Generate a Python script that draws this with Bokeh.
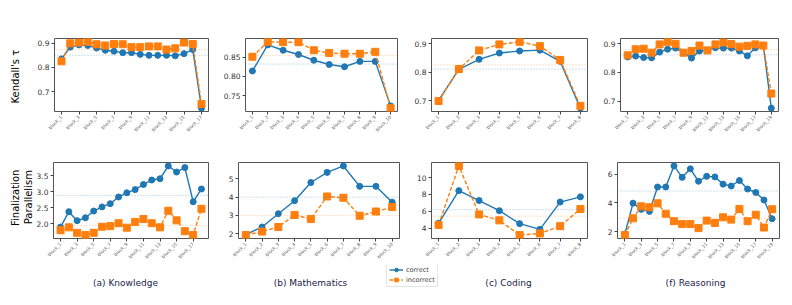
import numpy as np
from bokeh.plotting import figure
from bokeh.models import (Range1d, FixedTicker, Span, Legend, LegendItem,
                          ColumnDataSource, NumeralTickFormatter)
from bokeh.layouts import column, row
from bokeh.core.properties import value
from bokeh.embed import file_html
from bokeh.resources import INLINE

# ---------------- data ----------------
know_tau_correct = [0.835, 0.884, 0.893, 0.891, 0.880, 0.871, 0.867, 0.861, 0.861, 0.854,
                    0.850, 0.850, 0.850, 0.848, 0.857, 0.874, 0.631]
know_tau_incorrect = [0.825, 0.900, 0.903, 0.906, 0.896, 0.891, 0.897, 0.896, 0.884, 0.884,
                      0.887, 0.887, 0.874, 0.879, 0.903, 0.897, 0.648]
math_tau_correct = [0.814, 0.882, 0.868, 0.857, 0.842, 0.831, 0.825, 0.839, 0.839, 0.723]
math_tau_incorrect = [0.851, 0.890, 0.889, 0.889, 0.868, 0.861, 0.859, 0.859, 0.864, 0.717]
code_tau_correct = [0.702, 0.810, 0.845, 0.867, 0.874, 0.877, 0.838, 0.675]
code_tau_incorrect = [0.700, 0.811, 0.876, 0.897, 0.906, 0.891, 0.843, 0.683]
reas_tau_correct = [0.854, 0.857, 0.852, 0.851, 0.871, 0.881, 0.885, 0.869, 0.850, 0.875,
                    0.878, 0.886, 0.885, 0.885, 0.875, 0.858, 0.886, 0.894, 0.675]
reas_tau_incorrect = [0.860, 0.881, 0.883, 0.869, 0.898, 0.907, 0.900, 0.869, 0.875, 0.894,
                      0.877, 0.898, 0.905, 0.899, 0.890, 0.893, 0.898, 0.894, 0.726]

know_par_correct = [1.90, 2.38, 2.10, 2.19, 2.40, 2.53, 2.63, 2.84, 2.97, 3.07,
                    3.23, 3.37, 3.41, 3.81, 3.62, 3.76, 2.69, 3.09]
know_par_incorrect = [1.80, 1.89, 1.72, 1.65, 1.72, 1.91, 1.93, 2.02, 1.88, 2.06,
                      2.15, 2.02, 1.89, 2.41, 2.11, 1.77, 1.65, 2.47]
math_par_correct = [1.95, 2.37, 3.09, 3.80, 4.79, 5.34, 5.69, 4.58, 4.58, 3.72]
math_par_incorrect = [1.93, 2.12, 2.37, 3.02, 2.80, 4.03, 3.96, 2.98, 3.21, 3.45]
code_par_correct = [4.57, 8.46, 7.28, 6.07, 4.53, 3.85, 7.10, 7.72]
code_par_incorrect = [4.38, 11.4, 5.63, 4.92, 3.17, 3.36, 4.23, 6.27]
reas_par_correct = [1.84, 3.98, 3.55, 3.41, 5.10, 5.10, 6.56, 5.77, 6.36, 5.50,
                    5.84, 5.80, 5.30, 5.17, 5.55, 4.96, 4.72, 4.20, 2.90]
reas_par_incorrect = [1.77, 2.93, 3.76, 3.70, 3.97, 3.25, 2.73, 2.53, 2.53, 2.25,
                      2.77, 2.61, 3.00, 2.84, 3.58, 2.73, 3.18, 2.29, 3.56]

tau_ticks_a = [0.7, 0.8, 0.9]
tau_ticks_b = [0.75, 0.80, 0.85]
par_ticks_a = [2.0, 2.5, 3.0, 3.5]
par_ticks_b = [2, 3, 4, 5]
par_ticks_c = [4, 6, 8, 10]
par_ticks_f = [2, 4, 6]

captions = ["(a) Knowledge", "(b) Mathematics", "(c) Coding", "(f) Reasoning"]
series_names = ["correct", "incorrect"]
ylabel_top = ["Kendall's τ"]
ylabel_bottom = ["Finalization", "Parallelism"]

# ---------------- style / layout ----------------
BLUE, ORANGE = "#1f77b4", "#ff7f0e"
FONT = "DejaVu Sans"
H1, H2, H3 = 138, 127, 40
CAPTION_X = [125, 310, 508, 695]
CAPTION_Y = 23


def make_panel(correct, incorrect, label_every, yticks, yfmt, width, height, borders):
    bl, br, bt, bb = borders
    n = len(correct)
    xs = list(range(1, n + 1))
    vals = correct + incorrect
    lo, hi = min(vals), max(vals)
    ypad = 0.05 * (hi - lo)
    xpad = 0.05 * (n - 1)
    p = figure(width=width, height=height, output_backend="svg", toolbar_location=None,
               x_range=Range1d(1 - xpad, n + xpad), y_range=Range1d(lo - ypad, hi + ypad),
               min_border_left=bl, min_border_right=br, min_border_top=bt, min_border_bottom=bb)
    p.grid.visible = False
    p.outline_line_color = "#555555"
    p.outline_line_width = 1
    p.add_layout(Span(location=float(np.mean(correct)), dimension="width", line_color=BLUE,
                      line_alpha=0.45, line_dash="1 2", line_width=1))
    p.add_layout(Span(location=float(np.mean(incorrect)), dimension="width", line_color=ORANGE,
                      line_alpha=0.45, line_dash="1 2", line_width=1))
    src_c = ColumnDataSource(dict(x=xs, y=correct))
    src_i = ColumnDataSource(dict(x=xs, y=incorrect))
    p.line("x", "y", source=src_c, line_color=BLUE, line_width=1.4)
    p.scatter("x", "y", source=src_c, marker="circle", size=6, fill_color=BLUE, line_color=BLUE)
    p.line("x", "y", source=src_i, line_color=ORANGE, line_width=1.4, line_dash="4 2")
    p.scatter("x", "y", source=src_i, marker="square", size=7, fill_color=ORANGE, line_color=ORANGE)

    ticks = xs[::label_every]
    p.xaxis.ticker = FixedTicker(ticks=ticks)
    p.xaxis.major_label_overrides = {i: f"block_{i}" for i in ticks}
    p.xaxis.major_label_orientation = np.pi / 4
    p.xaxis.major_label_text_font_size = "4.5px"
    p.xaxis.major_label_text_color = "#555555"
    p.yaxis.ticker = FixedTicker(ticks=yticks)
    p.yaxis.formatter = NumeralTickFormatter(format=yfmt)
    p.yaxis.major_label_text_font_size = "7.5px"
    p.yaxis.major_label_text_color = "#333333"
    for ax in (p.xaxis[0], p.yaxis[0]):
        ax.axis_line_color = None
        ax.major_tick_out = 3
        ax.major_tick_in = 0
        ax.major_tick_line_color = "#444444"
        ax.minor_tick_line_color = None
        ax.major_label_standoff = 2
        ax.major_label_text_font = FONT
    return p


def text_fig(width, height):
    f = figure(width=width, height=height, x_range=Range1d(0, width), y_range=Range1d(0, height),
               output_backend="svg", toolbar_location=None, x_axis_type=None, y_axis_type=None,
               min_border=0)
    f.grid.visible = False
    f.outline_line_color = None
    return f


# y-label figures (pixel coordinates inside each small canvas)
lab1 = text_fig(34, H1)
lab1.text(x=[15], y=[H1 - 72], text=ylabel_top, angle=np.pi / 2, text_align="center",
          text_baseline="middle", text_font=value(FONT), text_font_size="10px", text_color="#000000")
lab2 = text_fig(33, H2)
lab2.text(x=[15, 28], y=[H2 - 59, H2 - 58], text=ylabel_bottom, angle=np.pi / 2, text_align="center",
          text_baseline="middle", text_font=value(FONT), text_font_size="10px", text_color="#000000")

a1 = make_panel(know_tau_correct, know_tau_incorrect, 2, tau_ticks_a, "0.0", 186, H1, (17, 12, 38, 22))
b1 = make_panel(math_tau_correct, math_tau_incorrect, 1, tau_ticks_b, "0.00", 190, H1, (24, 13, 38, 26))
c1 = make_panel(code_tau_correct, code_tau_incorrect, 1, tau_ticks_a, "0.0", 190, H1, (21, 13, 38, 25))
f1 = make_panel(reas_tau_correct, reas_tau_incorrect, 2, tau_ticks_a, "0.0", 192, H1, (20, 14, 38, 27))

a2 = make_panel(know_par_correct, know_par_incorrect, 2, par_ticks_a, "0.0", 185, H2, (18, 10, 23, 27))
b2 = make_panel(math_par_correct, math_par_incorrect, 1, par_ticks_b, "0", 195, H2, (20, 14, 24, 26))
c2 = make_panel(code_par_correct, code_par_incorrect, 1, par_ticks_c, "0", 185, H2, (18, 11, 24, 24))
f2 = make_panel(reas_par_correct, reas_par_incorrect, 2, par_ticks_f, "0", 194, H2, (19, 13, 23, 27))

# caption / legend strip
strip = text_fig(792, H3)
cap_src = ColumnDataSource(dict(x=CAPTION_X, y=[CAPTION_Y] * 4, text=captions))
strip.text("x", "y", "text", source=cap_src, text_align="center", text_baseline="middle",
           text_font=value(FONT), text_font_size="9px", text_color="#22224a")
hidden = ColumnDataSource(dict(x=[-100, -90], y=[-100, -100]))
lc = strip.line("x", "y", source=hidden, line_color=BLUE, line_width=1.4)
sc = strip.scatter("x", "y", source=hidden, marker="circle", size=7, fill_color=BLUE, line_color=BLUE)
li = strip.line("x", "y", source=hidden, line_color=ORANGE, line_width=1.4, line_dash="4 2")
si = strip.scatter("x", "y", source=hidden, marker="square", size=7, fill_color=ORANGE, line_color=ORANGE)
legend = Legend(items=[LegendItem(label=series_names[0], renderers=[lc, sc], index=0),
                       LegendItem(label=series_names[1], renderers=[li, si], index=0)],
                location=(386, 18), glyph_width=14, glyph_height=9, label_height=9,
                label_text_font_size="6.5px", label_text_font=FONT, label_standoff=3,
                padding=2, spacing=1, margin=0, border_line_color="#cccccc",
                background_fill_alpha=0.9)
strip.add_layout(legend)

layout = column(row(lab1, a1, b1, c1, f1), row(lab2, a2, b2, c2, f2), strip)
open("out.html", "w").write(file_html(layout, INLINE))
